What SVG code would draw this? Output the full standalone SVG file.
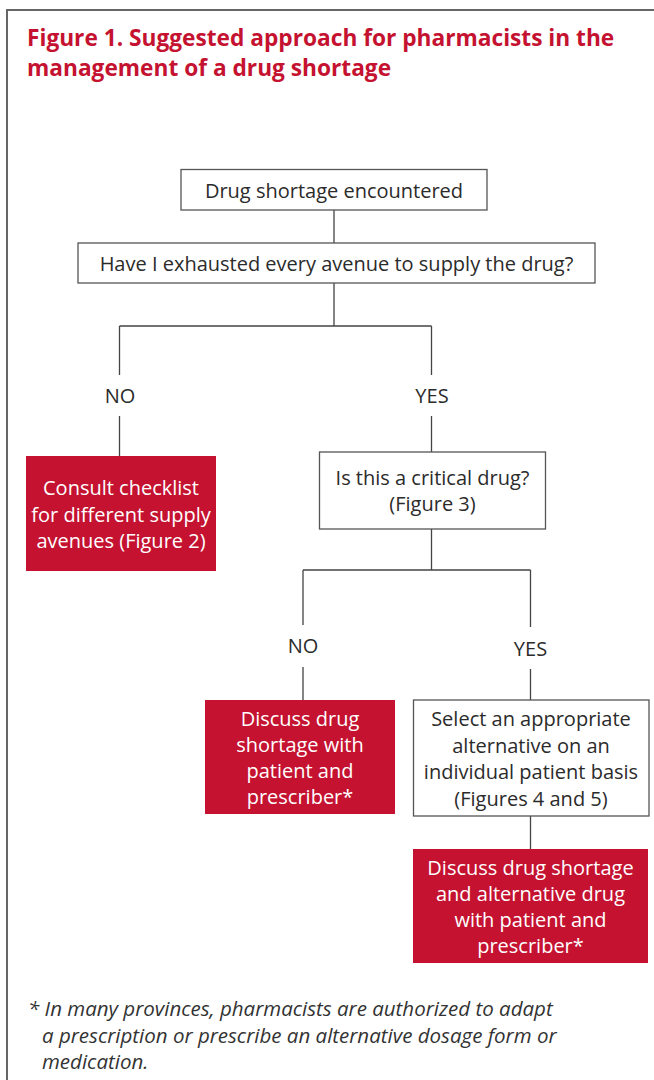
<svg xmlns="http://www.w3.org/2000/svg" width="654" height="1080" viewBox="0 0 654 1080">
<style>
.t{font-family:"Open Sans","Noto Sans","Liberation Sans",sans-serif;font-size:20px;fill:#2b2b2b;text-anchor:middle}
.w{font-family:"Open Sans","Noto Sans","Liberation Sans",sans-serif;font-size:20px;fill:#ffffff;text-anchor:middle}
.title{font-family:"Open Sans","Noto Sans","Liberation Sans",sans-serif;font-size:22.7px;font-weight:bold;fill:#c41230}
.foot{font-family:"Open Sans","Noto Sans","Liberation Sans",sans-serif;font-size:20.5px;font-style:italic;fill:#333333}
.box{fill:#ffffff;stroke:#555555;stroke-width:1.3}
.red{fill:#c41230}
.ln{stroke:#444444;stroke-width:1.3;fill:none}
</style>
<rect x="0" y="0" width="654" height="1080" fill="#ffffff"/>
<rect x="7" y="10" width="700" height="1100" fill="none" stroke="#666666" stroke-width="2"/>
<g id="title">
<text class="title" x="27" y="46">Figure 1. Suggested approach for pharmacists in the</text>
<text class="title" x="27" y="76">management of a drug shortage</text>
</g>
<g id="connectors">
<path class="ln" d="M334 210V243"/>
<path class="ln" d="M334 283V326M119.5 326H431.5M119.5 326V375M119.5 416V456M431.5 326V375M431.5 416V452"/>
<path class="ln" d="M431.5 529V570M303 570H530.5M303 570V625M303 667V700M530.5 570V627M530.5 669V700"/>
<path class="ln" d="M530.5 816V849"/>
</g>
<g id="n1"><rect class="box" x="181" y="169.5" width="306" height="40.5"/><text class="t" x="334" y="197.5">Drug shortage encountered</text></g>
<g id="n2"><rect class="box" x="78" y="243" width="517" height="40"/><text class="t" x="336.5" y="270.5">Have I exhausted every avenue to supply the drug?</text></g>
<g id="l1"><text class="t" x="120" y="402.5">NO</text></g>
<g id="l2"><text class="t" x="432" y="402.5">YES</text></g>
<g id="n3"><rect class="red" x="26" y="456" width="190" height="115"/><text class="w" x="121" y="495">Consult checklist</text><text class="w" x="121" y="521.5">for different supply</text><text class="w" x="121" y="547.5">avenues (Figure 2)</text></g>
<g id="n4"><rect class="box" x="319.5" y="452" width="226" height="77"/><text class="t" x="432.5" y="484.5">Is this a critical drug?</text><text class="t" x="432.5" y="511">(Figure 3)</text></g>
<g id="l3"><text class="t" x="303" y="653">NO</text></g>
<g id="l4"><text class="t" x="530.5" y="655.5">YES</text></g>
<g id="n5"><rect class="red" x="205" y="700" width="190" height="114"/><text class="w" x="300" y="725.5">Discuss drug</text><text class="w" x="300" y="751.5">shortage with</text><text class="w" x="300" y="778">patient and</text><text class="w" x="300" y="803.5">prescriber*</text></g>
<g id="n6"><rect class="box" x="413.5" y="700" width="235.5" height="116"/><text class="t" x="531" y="726">Select an appropriate</text><text class="t" x="531" y="752.5">alternative on an</text><text class="t" x="531" y="779">individual patient basis</text><text class="t" x="531" y="806">(Figures 4 and 5)</text></g>
<g id="n7"><rect class="red" x="413" y="849" width="235" height="114"/><text class="w" x="530.5" y="874.5">Discuss drug shortage</text><text class="w" x="530.5" y="900.5">and alternative drug</text><text class="w" x="530.5" y="926.5">with patient and</text><text class="w" x="530.5" y="953">prescriber*</text></g>
<g id="footnote">
<text class="foot" x="28" y="1016">* In many provinces, pharmacists are authorized to adapt</text>
<text class="foot" x="42" y="1043">a prescription or prescribe an alternative dosage form or</text>
<text class="foot" x="42" y="1069">medication.</text>
</g>
</svg>
